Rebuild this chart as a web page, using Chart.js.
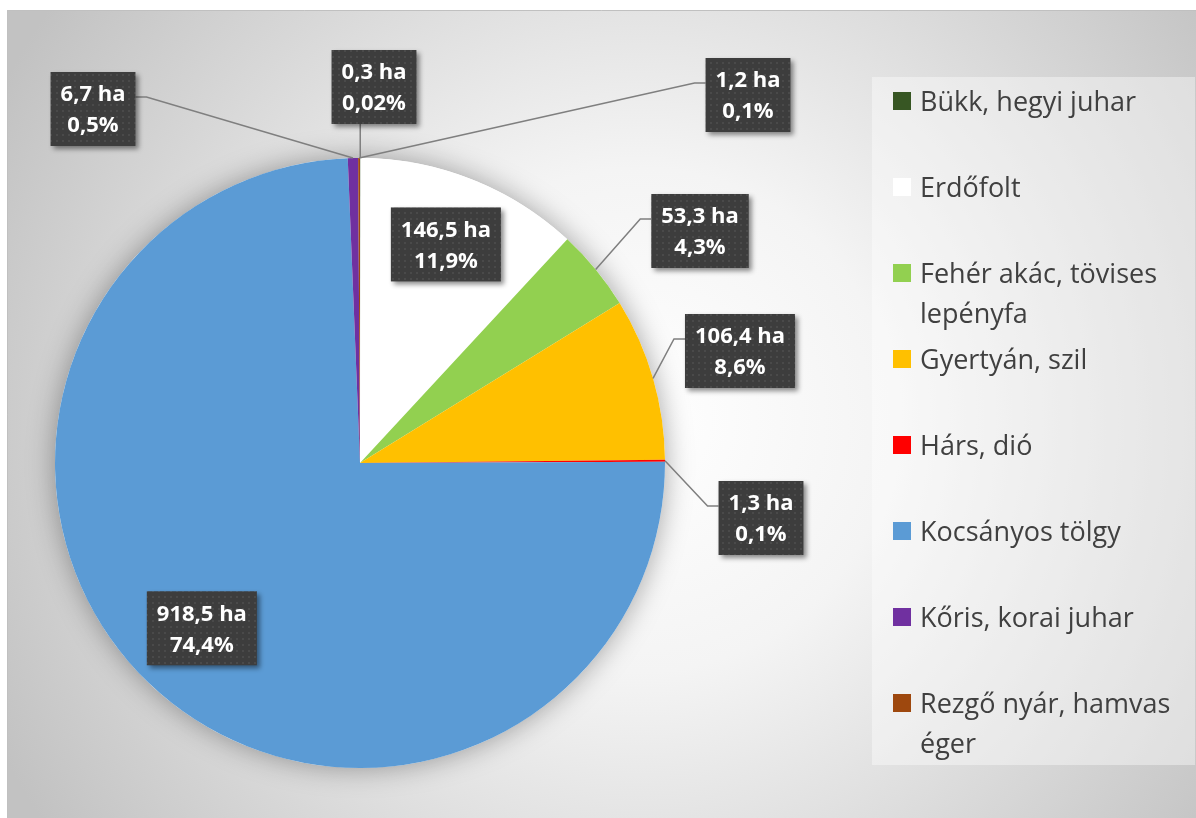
<!DOCTYPE html>
<html lang="hu">
<head>
<meta charset="UTF-8">
<title>Fafajok területi megoszlása</title>
<script src="https://cdn.jsdelivr.net/npm/chart.js"></script>
<style>
    body { margin: 0; background: #fff; }
    #wrap { width: 1196px; height: 818px; position: relative; }
</style>
</head>
<body>
<div id="wrap"><canvas id="pieChart" width="1196" height="818"></canvas></div>
<script>
// adatok
const categories = ['Bükk, hegyi juhar', 'Erdőfolt', 'Fehér akác, tövises lepényfa', 'Gyertyán, szil',
    'Hárs, dió', 'Kocsányos tölgy', 'Kőris, korai juhar', 'Rezgő nyár, hamvas éger'];
const areaHa = [0.3, 146.5, 53.3, 106.4, 1.3, 918.5, 6.7, 1.2];
const percentLabels = ['0,02%', '11,9%', '4,3%', '8,6%', '0,1%', '74,4%', '0,5%', '0,1%'];
const sliceColors = ['#375623', '#ffffff', '#92d050', '#ffc000', '#ff0000', '#5b9bd5', '#7030a0', '#9e480e'];

// címkék elhelyezése (doboz közepe), "inside" = a szeleten belül
const labelLayout = [
    { x: 374, y: 87, attach: 'bottom' },
    { inside: true, r: 0.77 },
    { x: 700, y: 231, attach: 'left' },
    { x: 740, y: 351, attach: 'left' },
    { x: 761, y: 518, attach: 'left' },
    { inside: true, r: 0.75 },
    { x: 93, y: 109, attach: 'right' },
    { x: 748, y: 95, attach: 'left' }
];

const FONT = '"Open Sans", "Liberation Sans", sans-serif';

function haText(v) {
    return v.toFixed(1).replace('.', ',') + ' ha';
}

// pöttyös sötét minta a címkedobozokhoz
function makePattern(ctx) {
    const c = document.createElement('canvas');
    c.width = 6; c.height = 6;
    const p = c.getContext('2d');
    p.fillStyle = '#3d3d3d';
    p.fillRect(0, 0, 6, 6);
    p.fillStyle = '#4a4a4a';
    p.fillRect(2, 2, 2, 2);
    return ctx.createPattern(c, 'repeat');
}

const backgroundPlugin = {
    id: 'background',
    beforeDraw(chart) {
        const ctx = chart.ctx;
        ctx.save();
        ctx.fillStyle = '#ffffff';
        ctx.fillRect(0, 0, chart.width, chart.height);
        const g = ctx.createRadialGradient(640, 420, 0, 640, 420, 720);
        g.addColorStop(0, '#ffffff');
        g.addColorStop(0.35, '#f4f4f4');
        g.addColorStop(1, '#c2c2c2');
        ctx.fillStyle = g;
        ctx.fillRect(7, 10, chart.width - 7, chart.height - 10);
        ctx.strokeStyle = '#c0c0c0';
        ctx.lineWidth = 1;
        ctx.beginPath();
        ctx.moveTo(7.5, chart.height);
        ctx.lineTo(7.5, 10.5);
        ctx.lineTo(chart.width, 10.5);
        ctx.stroke();
        // jelmagyarázat háttere
        ctx.fillStyle = 'rgba(255,255,255,0.4)';
        ctx.fillRect(872, 77, 323, 688);
        ctx.restore();
    },
    beforeDatasetsDraw(chart) {
        const arc = chart.getDatasetMeta(0).data[0];
        const ctx = chart.ctx;
        ctx.save();
        ctx.shadowColor = 'rgba(0,0,0,0.35)';
        ctx.shadowBlur = 28;
        ctx.fillStyle = '#ffffff';
        ctx.beginPath();
        ctx.arc(arc.x, arc.y, arc.outerRadius, 0, Math.PI * 2);
        ctx.fill();
        ctx.restore();
    }
};

function wrapText(ctx, text, maxWidth) {
    const words = text.split(' ');
    const lines = [];
    let line = '';
    words.forEach(w => {
        const test = line ? line + ' ' + w : w;
        if (ctx.measureText(test).width > maxWidth && line) {
            lines.push(line);
            line = w;
        } else {
            line = test;
        }
    });
    lines.push(line);
    return lines;
}

const legendPlugin = {
    id: 'sideLegend',
    afterDraw(chart) {
        const ctx = chart.ctx;
        ctx.save();
        ctx.font = '27px ' + FONT;
        ctx.textBaseline = 'middle';
        categories.forEach((name, i) => {
            const cy = 101 + i * 86;
            ctx.fillStyle = sliceColors[i];
            ctx.fillRect(893, cy - 9, 18, 18);
            ctx.fillStyle = '#404040';
            const lines = wrapText(ctx, name, 264);
            lines.forEach((ln, j) => ctx.fillText(ln, 920, cy + 2 + j * 40));
        });
        ctx.restore();
    }
};

const labelPlugin = {
    id: 'boxLabels',
    afterDatasetsDraw(chart) {
        const ctx = chart.ctx;
        const arcs = chart.getDatasetMeta(0).data;
        const pattern = makePattern(ctx);
        ctx.save();
        ctx.font = 'bold 22px ' + FONT;
        ctx.textAlign = 'center';
        ctx.textBaseline = 'middle';

        const boxes = arcs.map((arc, i) => {
            const lay = labelLayout[i];
            const mid = (arc.startAngle + arc.endAngle) / 2;
            const edge = { x: arc.x + Math.cos(mid) * arc.outerRadius, y: arc.y + Math.sin(mid) * arc.outerRadius };
            let cx = lay.x, cy = lay.y;
            if (lay.inside) {
                cx = arc.x + Math.cos(mid) * arc.outerRadius * lay.r;
                cy = arc.y + Math.sin(mid) * arc.outerRadius * lay.r;
            }
            const t1 = haText(areaHa[i]);
            const t2 = percentLabels[i];
            const w = Math.max(ctx.measureText(t1).width, ctx.measureText(t2).width) + 20;
            const h = 74;
            return { lay, edge, cx, cy, w, h, t1, t2, left: cx - w / 2, top: cy - h / 2 };
        });

        // vezetővonalak
        ctx.strokeStyle = '#7f7f7f';
        ctx.lineWidth = 1.5;
        boxes.forEach(b => {
            if (b.lay.inside) return;
            ctx.beginPath();
            if (b.lay.attach === 'bottom') {
                ctx.moveTo(b.edge.x, b.top + b.h);
                ctx.lineTo(b.edge.x, b.edge.y);
            } else if (b.lay.attach === 'left') {
                const ay = b.top + 25;
                ctx.moveTo(b.left, ay);
                ctx.lineTo(b.left - 11, ay);
                ctx.lineTo(b.edge.x, b.edge.y);
            } else {
                const ay = b.top + 25;
                ctx.moveTo(b.left + b.w, ay);
                ctx.lineTo(b.left + b.w + 11, ay);
                ctx.lineTo(b.edge.x, b.edge.y);
            }
            ctx.stroke();
        });

        // dobozok
        boxes.forEach(b => {
            ctx.save();
            ctx.shadowColor = 'rgba(0,0,0,0.45)';
            ctx.shadowBlur = 5;
            ctx.shadowOffsetX = 3;
            ctx.shadowOffsetY = 3;
            ctx.fillStyle = pattern;
            ctx.fillRect(b.left, b.top, b.w, b.h);
            ctx.restore();
            ctx.fillStyle = '#ffffff';
            ctx.fillText(b.t1, b.cx, b.cy - 14);
            ctx.fillText(b.t2, b.cx, b.cy + 17);
        });
        ctx.restore();
    }
};

new Chart(document.getElementById('pieChart'), {
    type: 'pie',
    data: {
        labels: categories,
        datasets: [{
            data: areaHa,
            backgroundColor: sliceColors,
            borderWidth: 0
        }]
    },
    options: {
        responsive: false,
        animation: false,
        layout: {
            padding: { left: 55, right: 531, top: 158, bottom: 50 }
        },
        plugins: {
            legend: { display: false },
            tooltip: { enabled: false }
        }
    },
    plugins: [backgroundPlugin, labelPlugin, legendPlugin]
});
</script>
</body>
</html>
